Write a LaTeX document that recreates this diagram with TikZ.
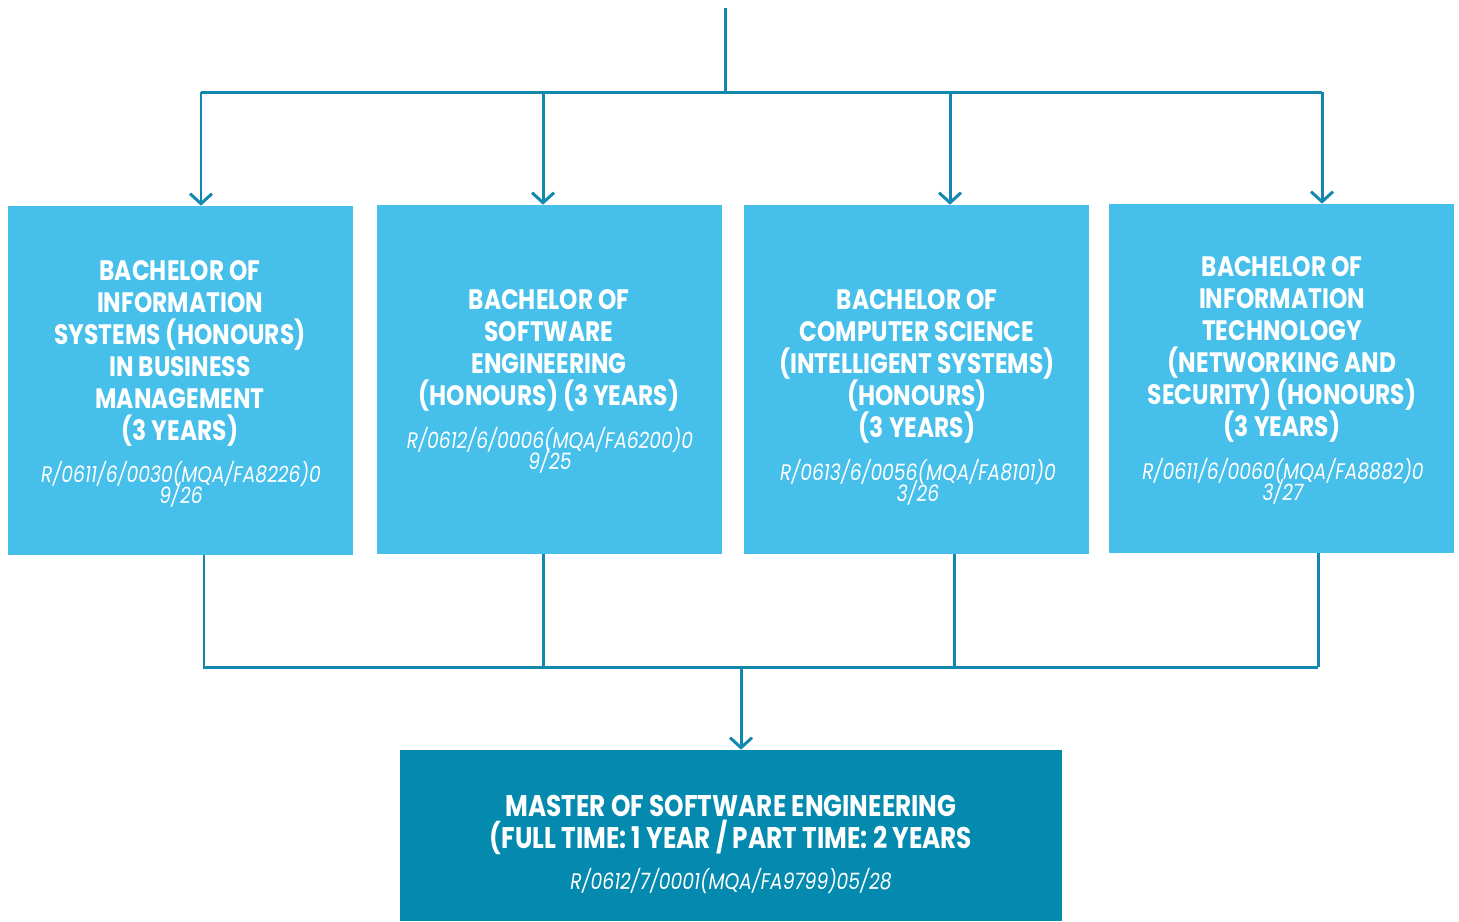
\documentclass[tikz,border=0pt]{standalone}
\usepackage{fontspec}
\setmainfont{Poppins}[FakeStretch=0.83]
\usetikzlibrary{arrows.meta}
\setlength{\lineskiplimit}{-20pt}
\definecolor{boxblue}{HTML}{47BFEB}
\definecolor{masterblue}{HTML}{048AAE}
\definecolor{linkblue}{HTML}{1288AE}
\tikzset{
  prog/.style={fill=boxblue, minimum width=6.9cm, minimum height=6.98cm, inner sep=0pt},
  master/.style={fill=masterblue, minimum width=13.24cm, minimum height=3.42cm, inner sep=0pt},
  title/.style={text=white, align=center, font=\fontsize{16}{18.2}\selectfont\bfseries},
  code/.style={text=white, align=center, font=\fontsize{12.8}{12}\selectfont\itshape},
  link/.style={linkblue, line width=1.7pt},
  arr/.style={link, -{Straight Barb[length=2mm,width=4.4mm,line width=1.7pt]}}
}
\begin{document}
\begin{tikzpicture}[x=0.02cm, y=-0.02cm]
  \useasboundingbox (0,0) rectangle (1459,921);

  % the four bachelor programmes
  \node[prog] (b1) at (180.5,380.5) {};
  \node[prog] (b2) at (549.5,379.5) {};
  \node[prog] (b3) at (916.5,379.5) {};
  \node[prog] (b4) at (1281.5,378.5) {};
  % the master programme
  \node[master] (m) at (731,835.5) {};

  % titles and registration codes
  \node[title] (t1) at (180,353) {BACHELOR OF\\INFORMATION\\SYSTEMS (HONOURS)\\IN BUSINESS\\MANAGEMENT\\(3 YEARS)};
  \node[code] (c1) at (181,484) {R/0611/6/0030(MQA/FA8226)0\\9/26};
  \node[title] (t2) at (549,350) {BACHELOR OF\\SOFTWARE\\ENGINEERING\\(HONOURS) (3 YEARS)};
  \node[code] (c2) at (550,450) {R/0612/6/0006(MQA/FA6200)0\\9/25};
  \node[title] (t3) at (917,366) {BACHELOR OF\\COMPUTER SCIENCE\\(INTELLIGENT SYSTEMS)\\(HONOURS)\\(3 YEARS)};
  \node[code] (c3) at (918,482) {R/0613/6/0056(MQA/FA8101)0\\3/26};
  \node[title] (t4) at (1282,349) {BACHELOR OF\\INFORMATION\\TECHNOLOGY\\(NETWORKING AND\\SECURITY) (HONOURS)\\(3 YEARS)};
  \node[code] (c4) at (1283,481) {R/0611/6/0060(MQA/FA8882)0\\3/27};
  \node[title, font=\fontsize{17}{18.2}\selectfont\bfseries] (tm) at (731,825) {MASTER OF SOFTWARE ENGINEERING\\(FULL TIME: 1 YEAR / PART TIME: 2 YEARS};
  \node[code] (cm) at (731,881) {R/0612/7/0001(MQA/FA9799)05/28};

  % entry line splitting to the bachelors
  \coordinate (top) at (725,8);
  \coordinate (split) at (725,92);
  \draw[link] (top) -- (split);
  \draw[link] ([xshift=20.5*0.02cm]b1.north |- split) -- ([xshift=40.5*0.02cm]b4.north |- split);
  \draw[arr] ([xshift=20.5*0.02cm]b1.north |- split) -- ([xshift=20.5*0.02cm]b1.north);
  \draw[arr] ([xshift=-6.5*0.02cm]b2.north |- split) -- ([xshift=-6.5*0.02cm]b2.north);
  \draw[arr] ([xshift=33.5*0.02cm]b3.north |- split) -- ([xshift=33.5*0.02cm]b3.north);
  \draw[arr] ([xshift=40.5*0.02cm]b4.north |- split) -- ([xshift=40.5*0.02cm]b4.north);

  % bachelors joining into the master
  \coordinate (join) at (741,667);
  \draw[link] ([xshift=23.5*0.02cm]b1.south) -- ([xshift=23.5*0.02cm]b1.south |- join);
  \draw[link] ([xshift=-6.5*0.02cm]b2.south) -- ([xshift=-6.5*0.02cm]b2.south |- join);
  \draw[link] ([xshift=37.5*0.02cm]b3.south) -- ([xshift=37.5*0.02cm]b3.south |- join);
  \draw[link] ([xshift=36.5*0.02cm]b4.south) -- ([xshift=36.5*0.02cm]b4.south |- join);
  \draw[link] ([xshift=22.5*0.02cm]b1.south |- join) -- ([xshift=36.5*0.02cm]b4.south |- join);
  \draw[arr] (join) -- (m.north -| join);
\end{tikzpicture}
\end{document}
